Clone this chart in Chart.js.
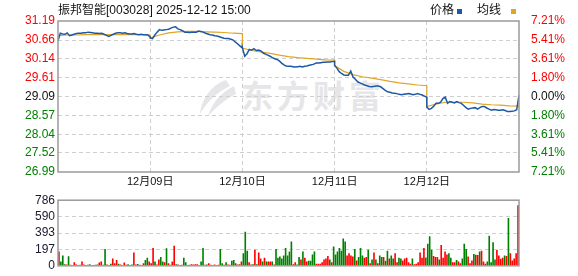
<!DOCTYPE html>
<html><head><meta charset="utf-8">
<script src="https://cdn.jsdelivr.net/npm/chart.js@4"></script>
<style>
html,body{margin:0;padding:0;background:#fff;}
#wrap{position:relative;width:578px;height:276px;overflow:hidden;font-family:"Liberation Sans","Noto Sans CJK SC",sans-serif;}
canvas{position:absolute;left:0;}
#c1{top:0;z-index:2;}
#c2{top:190px;z-index:2;}
.t{position:absolute;font-size:12px;line-height:14px;color:#111;white-space:nowrap;z-index:3;}
.sq{position:absolute;width:5px;height:5px;z-index:3;}
#wm{position:absolute;left:196px;top:74px;z-index:1;color:#e6e6e8;white-space:nowrap;}
#wm span{position:absolute;left:45px;top:0;font-family:"Noto Sans CJK SC",sans-serif;font-weight:bold;font-size:32px;line-height:40px;letter-spacing:4px;}
</style></head><body>
<div id="wrap">
<div id="wm"><svg width="42" height="40" viewBox="0 0 42 40" style="position:absolute;left:0;top:4px"><path d="M30 2 C18 6 6 18 4 36 C10 26 18 16 34 8 Z" fill="#e6e6e8"/><path d="M38 8 C26 14 16 24 12 38 C20 30 28 22 40 16 Z" fill="#e6e6e8"/></svg><span>东方财富</span></div>
<canvas id="c1" width="578" height="190"></canvas>
<canvas id="c2" width="578" height="86"></canvas>
<div class="t" style="left:58px;top:3px">振邦智能[003028] 2025-12-12 15:00</div>
<div class="t" style="left:430px;top:3px">价格</div>
<div class="sq" style="left:457px;top:9px;background:#1d58a6"></div>
<div class="t" style="left:477px;top:3px">均线</div>
<div class="sq" style="left:511px;top:9px;background:#e0a526"></div>
</div>
<script>
const dayLabels = ['12月08日','12月09日','12月10日','12月11日','12月12日'];
const prevClose = 29.09;
const priceTicks = [26.99,27.52,28.04,28.57,29.09,29.61,30.14,30.66,31.19];
const pctTicks = ['7.21%','5.41%','3.61%','1.80%','0.00%','1.80%','3.61%','5.41%','7.21%'];
const volTicks = [0,197,393,590,786];

// price every 6 minutes (41 per day, 0..240)
const priceD1 = [30.64,30.85,30.83,30.82,30.86,30.78,30.80,30.82,30.84,30.85,30.85,30.86,30.86,30.88,30.87,30.86,30.85,30.85,30.84,30.85,30.82,30.79,30.76,30.79,30.82,30.85,30.86,30.86,30.85,30.86,30.84,30.83,30.83,30.84,30.82,30.81,30.82,30.81,30.81,30.80,30.74];
const priceD2 = [30.72,30.70,30.80,30.88,30.95,30.93,30.94,30.95,30.96,30.99,31.02,31.03,30.97,30.95,30.92,30.88,30.88,30.87,30.88,30.88,30.88,30.91,30.90,30.88,30.85,30.83,30.81,30.80,30.78,30.77,30.75,30.73,30.71,30.70,30.70,30.68,30.66,30.60,30.55,30.49,30.44];
const priceD3 = [30.45,30.21,30.28,30.40,30.38,30.42,30.37,30.38,30.36,30.30,30.27,30.24,30.21,30.17,30.14,30.12,30.08,30.02,29.97,29.94,29.93,29.93,29.92,29.91,29.92,29.93,29.91,29.93,29.94,29.96,29.97,29.99,30.02,30.02,30.03,30.04,30.04,30.05,30.05,30.06,30.07];
const priceD4 = [29.95,29.88,29.78,29.73,29.69,29.68,29.68,29.80,29.63,29.57,29.50,29.47,29.44,29.41,29.39,29.37,29.36,29.37,29.38,29.38,29.36,29.31,29.26,29.22,29.21,29.19,29.18,29.17,29.15,29.14,29.15,29.16,29.17,29.16,29.14,29.15,29.17,29.15,29.13,29.10,29.07];
const priceD5 = [28.80,28.73,28.76,28.82,28.90,28.90,28.93,29.03,29.07,28.90,28.95,28.93,28.91,28.95,28.92,28.90,28.84,28.78,28.74,28.76,28.77,28.78,28.74,28.78,28.81,28.81,28.77,28.74,28.71,28.73,28.72,28.71,28.71,28.72,28.70,28.67,28.67,28.68,28.69,28.72,29.13];

// average price every 24 minutes (11 per day)
const avgD1 = [30.78,30.80,30.80,30.81,30.81,30.81,30.81,30.81,30.81,30.81,30.80];
const avgD2 = [30.72,30.80,30.86,30.89,30.90,30.90,30.89,30.88,30.87,30.85,30.84];
const avgD3 = [30.44,30.37,30.33,30.29,30.24,30.20,30.17,30.15,30.13,30.11,30.10];
const avgD4 = [29.95,29.79,29.70,29.64,29.60,29.56,29.51,29.47,29.44,29.41,29.39];
const avgD5 = [28.81,28.88,28.93,28.93,28.93,28.91,28.88,28.86,28.85,28.83,28.82];

// volume per 5 minutes (48 per day), direction R=up G=down
const volD1 = [170,53,124,20,15,113,12,10,42,15,10,12,53,15,10,12,20,10,8,12,15,40,53,12,202,15,10,25,88,30,70,25,15,10,40,12,20,10,15,159,15,22,12,10,30,70,95,53];
const dirD1 = "RGGGRGRGRRGRRRGRGRGRGRRGGRGGRRRGRGRRGRGRRGRGRGGR";
const volD2 = [30,212,53,15,75,106,53,42,209,30,12,53,241,20,15,10,12,95,42,10,12,20,15,20,18,10,53,212,12,15,30,12,10,15,10,12,202,30,12,42,15,12,60,70,30,15,20,53];
const dirD2 = "RRGRRGGRGRGRRGRGRGGRGRRRRGGGRGRRGRGRGGRGRGGGRGRR";
const volD3 = [149,407,180,42,15,20,191,20,159,88,53,95,53,53,53,53,15,202,95,110,88,124,212,124,170,290,20,42,15,106,75,170,95,53,60,60,135,170,25,25,25,42,75,88,117,75,42,230];
const dirD3 = "GGGRRGRGRRGRGRRGRGGGGGGGGGRRGGRGRRGGGGRRRRRRRGRG";
const volD4 = [134,170,212,180,326,290,124,149,124,110,202,63,106,212,124,95,106,191,30,75,159,75,30,124,106,106,60,180,88,124,88,149,42,95,88,63,88,95,42,25,88,20,25,42,159,95,212,99];
const dirD4 = "GGGGGGRRRRGRGGGRRGRGRGRGGRGGRGGRRGGRRRRRGRRRRRRG";
const volD5 = [265,354,191,117,106,106,75,248,95,170,135,149,95,42,42,70,53,30,88,265,202,110,30,63,140,131,130,170,180,53,25,53,361,42,283,75,191,124,85,95,124,117,573,149,63,88,149,725];
const dirD5 = "GGGRRRGRRRRGGRRGRRGGGRRRGRRGRRRGGGGGRRRRGRGRRRRR";

const RED = '#ff0000', GREEN = '#008000', BLACK = '#111';
const DAY = 240;
const priceDays = [priceD1, priceD2, priceD3, priceD4, priceD5];
const avgDays = [avgD1, avgD2, avgD3, avgD4, avgD5];
const volDays = [volD1, volD2, volD3, volD4, volD5];
const dirDays = [dirD1, dirD2, dirD3, dirD4, dirD5];

const pricePts = priceDays.flatMap((a, d) => a.map((p, j) => ({x: d*DAY + j*6, y: p})));
const avgPts = avgDays.flatMap((a, d) => a.map((p, j) => ({x: d*DAY + j*24, y: p})));
const volPts = volDays.flatMap((a, d) => a.map((v, k) => ({x: d*DAY + k*5 + 2.5, y: v})));
const volColors = dirDays.flatMap(s => s.split('').map(c => c === 'R' ? RED : GREEN));

Chart.defaults.font.family = '"Liberation Sans","Noto Sans CJK SC",sans-serif';
Chart.defaults.font.size = 12;

const framePlugin = {id:'frame', afterDraw(chart){
  const {ctx, chartArea:a} = chart;
  ctx.save(); ctx.strokeStyle = '#9a9a9a'; ctx.lineWidth = 1.5;
  ctx.strokeRect(a.left, a.top, a.right - a.left, a.bottom - a.top);
  ctx.restore();
}};

function tickColor(v){ if (Math.abs(v - prevClose) < 0.001) return BLACK; return v > prevClose ? RED : GREEN; }
const gridCol = (n) => (ctx) => (ctx.index === 0 || ctx.index === n - 1) ? 'rgba(0,0,0,0)' : '#cfcfcf';

new Chart(document.getElementById('c1'), {
  type: 'line',
  data: {datasets: [
    {data: pricePts, borderColor: '#1d58a6', borderWidth: 1.5, pointRadius: 0, tension: 0, order: 1},
    {data: avgPts, borderColor: '#e0a526', borderWidth: 1.2, pointRadius: 0, tension: 0, order: 2}
  ]},
  options: {
    responsive: false, animation: false, devicePixelRatio: 1,
    layout: {padding: {top: 21, left: 0, right: 0, bottom: 0}},
    plugins: {legend: {display: false}, tooltip: {enabled: false}},
    scales: {
      x: {type: 'linear', min: 0, max: DAY*5, offset: false,
        afterBuildTicks: s => { s.ticks = [1,2,3,4].map(i => ({value: i*DAY})); },
        afterFit: s => { s.height = 18; },
        ticks: {autoSkip: false, maxRotation: 0, padding: 3, color: BLACK, font: {size: 11},
          callback: v => dayLabels[Math.round(v / DAY)]},
        grid: {color: '#cfcfcf', drawTicks: false, lineWidth: 1},
        border: {display: false, dash: [4, 3]}
      },
      y: {position: 'left', min: priceTicks[0], max: priceTicks[priceTicks.length-1],
        afterBuildTicks: s => { s.ticks = priceTicks.map(v => ({value: v})); },
        afterFit: s => { s.width = 58; },
        ticks: {autoSkip: false, padding: 3, color: c => tickColor(c.tick.value), callback: v => v.toFixed(2)},
        grid: {color: gridCol(priceTicks.length), drawTicks: false, lineWidth: 1},
        border: {display: false, dash: [4, 3]}
      },
      yR: {position: 'right', min: priceTicks[0], max: priceTicks[priceTicks.length-1],
        afterBuildTicks: s => { s.ticks = priceTicks.map(v => ({value: v})); },
        afterFit: s => { s.width = 59; },
        ticks: {autoSkip: false, padding: 4, color: c => tickColor(c.tick.value),
          callback: (v, i) => pctTicks[pctTicks.length - 1 - i]},
        grid: {display: false},
        border: {display: false}
      }
    }
  },
  plugins: [framePlugin]
});

new Chart(document.getElementById('c2'), {
  type: 'bar',
  data: {datasets: [{data: volPts, backgroundColor: volColors, borderWidth: 0,
    barPercentage: 0.85, categoryPercentage: 1}]},
  options: {
    responsive: false, animation: false, devicePixelRatio: 1,
    layout: {padding: {top: 6, left: 0, right: 59, bottom: 6}},
    plugins: {legend: {display: false}, tooltip: {enabled: false}},
    scales: {
      x: {type: 'linear', min: 0, max: DAY*5, offset: false, display: false, grid: {offset: false}},
      y: {min: 0, max: volTicks[volTicks.length-1],
        afterBuildTicks: s => { s.ticks = volTicks.map(v => ({value: v})); },
        afterFit: s => { s.width = 58; },
        ticks: {autoSkip: false, padding: 3, color: '#1a1a2e'},
        grid: {color: gridCol(volTicks.length), drawTicks: false, lineWidth: 1},
        border: {display: false, dash: [4, 3]}
      }
    }
  },
  plugins: [framePlugin]
});
</script>
</body></html>
